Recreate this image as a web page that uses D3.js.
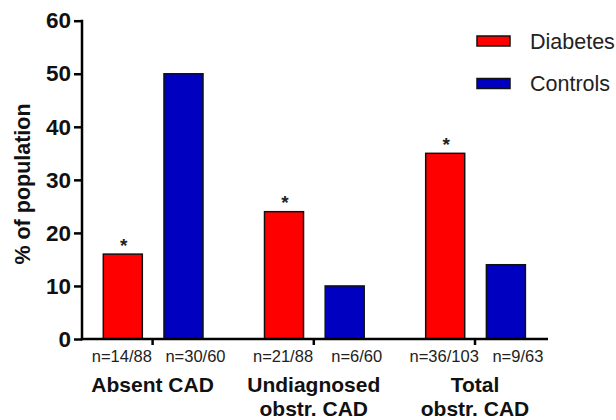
<!DOCTYPE html>
<html><head><meta charset="utf-8">
<script src="https://cdn.jsdelivr.net/npm/d3@7"></script>
<style>body{margin:0;background:#fff}text{font-family:"Liberation Sans",Arial,sans-serif}</style>
</head><body><svg id="c" width="616" height="420"></svg>
<script>
const groups = ["Absent CAD", "Undiagnosed obstr. CAD", "Total obstr. CAD"];
const groupLines = [["Absent CAD"], ["Undiagnosed", "obstr. CAD"], ["Total", "obstr. CAD"]];
const series = ["Diabetes", "Controls"];
const diabetes = [16, 24, 35];
const controls = [50, 10, 14];
const nDiabetes = ["n=14/88", "n=21/88", "n=36/103"];
const nControls = ["n=30/60", "n=6/60", "n=9/63"];
const significant = [true, true, true];
const yTicks = [0, 10, 20, 30, 40, 50, 60];
const colors = ["#ff0000", "#0000c0"];

const svg = d3.select("#c");
const axisX = 82, baseY = 339;
const y = d3.scaleLinear().domain([0, 60]).range([baseY, 20.7]);
const x = d3.scaleBand().domain(groups).range([72, 555.6]);
const sub = d3.scaleBand().domain(series).range([31.3, 131]).paddingInner(0.357);
const values = [diabetes, controls];
const nLabels = [nDiabetes, nControls];

// bars
series.forEach((s, si) => {
  svg.append("g").selectAll("rect").data(groups).join("rect")
    .attr("x", g => x(g) + sub(s))
    .attr("y", (g, i) => y(values[si][i]))
    .attr("width", sub.bandwidth())
    .attr("height", (g, i) => baseY - y(values[si][i]))
    .attr("fill", colors[si])
    .attr("stroke", "#111").attr("stroke-width", 1.5);
});

// stars
svg.append("g").selectAll("text").data(groups.filter((g, i) => significant[i])).join("text")
  .attr("x", g => x(g) + sub("Diabetes") + sub.bandwidth() / 2 + 1)
  .attr("y", g => y(diabetes[groups.indexOf(g)]) - 2.5)
  .attr("text-anchor", "middle").attr("font-size", 19).attr("font-weight", "bold").attr("fill", "#222")
  .text("*");

// y axis
const ya = svg.append("g").attr("transform", `translate(${axisX},0)`)
  .call(d3.axisLeft(y).tickValues(yTicks).tickSize(8).tickSizeOuter(0).tickPadding(3));
ya.select(".domain").attr("stroke-width", 2.5).attr("d", `M0,${y(60)-1}V${baseY+1.2}`);
ya.selectAll(".tick line").attr("stroke-width", 2.5);
ya.selectAll(".tick text").attr("font-size", 22.5).attr("font-weight", "bold").attr("fill", "#111")
  .attr("font-family", "Liberation Sans, Arial, sans-serif");

// x axis
const xa = svg.append("g").attr("transform", `translate(0,${baseY})`)
  .call(d3.axisBottom(x).tickSize(6).tickSizeOuter(0).tickFormat(""));
xa.select(".domain").remove();
xa.selectAll(".tick line").attr("stroke-width", 2.5);
svg.append("line").attr("x1", axisX - 1.2).attr("x2", 548).attr("y1", baseY).attr("y2", baseY)
  .attr("stroke", "#000").attr("stroke-width", 2.5);

// n labels
const nOff = [-1, 12];
series.forEach((s, si) => {
  svg.append("g").selectAll("text").data(groups).join("text")
    .attr("x", g => x(g) + sub(s) + sub.bandwidth() / 2 + nOff[si])
    .attr("y", 362)
    .attr("text-anchor", "middle").attr("font-size", 16.5).attr("fill", "#222")
    .text((g, i) => nLabels[si][i]);
});

// category labels
groups.forEach((g, i) => {
  const t = svg.append("text").attr("text-anchor", "middle").attr("font-size", 21)
    .attr("font-weight", "bold").attr("fill", "#111");
  groupLines[i].forEach((ln, li) => {
    t.append("tspan").attr("x", x(g) + x.bandwidth() / 2).attr("y", 392 + li * 24).text(ln);
  });
});

// y title
svg.append("text").attr("transform", `translate(30,184) rotate(-90)`)
  .attr("text-anchor", "middle").attr("font-size", 21.5).attr("font-weight", "bold").attr("fill", "#111")
  .text("% of population");

// legend
series.forEach((s, si) => {
  const ly = 36 + si * 42.5;
  svg.append("rect").attr("x", 477).attr("y", ly).attr("width", 33).attr("height", 10)
    .attr("fill", colors[si]).attr("stroke", "#111").attr("stroke-width", 1.5);
  svg.append("text").attr("x", 530).attr("y", ly + 12.5).attr("font-size", 21.5).attr("fill", "#222").text(s);
});
</script></body></html>
